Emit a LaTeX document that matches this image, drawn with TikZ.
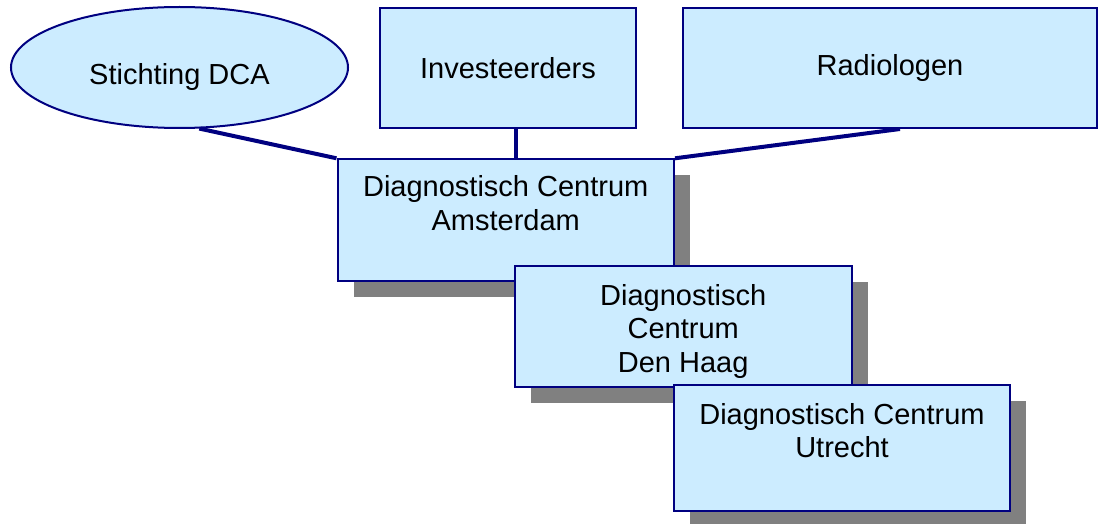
\documentclass[tikz,border=0pt]{standalone}
\usepackage{fontspec}
\setmainfont{Liberation Sans}
\usetikzlibrary{shapes.geometric,shadows}
\definecolor{boxfill}{HTML}{CCECFF}
\definecolor{boxline}{HTML}{000080}
\definecolor{shadowgray}{HTML}{808080}
\begin{document}
\begin{tikzpicture}[x=0.5pt,y=-0.5pt]
        \tikzstyle{unit}=[rectangle,draw=boxline,line width=1pt,fill=boxfill,inner sep=0pt]
        \tikzstyle{oval}=[ellipse,draw=boxline,line width=1pt,fill=boxfill,inner sep=0pt]
        \tikzstyle{shadowed}=[general shadow={fill=shadowgray,shadow xshift=8pt,shadow yshift=-8pt}]
        \tikzstyle{lbl}=[font=\fontsize{14.5}{16.75}\selectfont,align=center,inner sep=0pt]
        \tikzstyle{link}=[draw=boxline,line width=2pt]
        \useasboundingbox (0,0) rectangle (1098,524);
       \begin{scope}
         \node [oval,minimum width=168.5pt,minimum height=60.5pt] (dca) at (179.5,67.5) {};
         \node [lbl] (dca-t) at ([yshift=-4.75pt]dca.center) {Stichting DCA};
         \node [unit,lbl,minimum width=128pt,minimum height=60pt] (inv) at (508,68) {Investeerders};
         \node [unit,lbl,minimum width=207pt,minimum height=60pt] (radio) at (890,68) {Radiologen};
         \node [unit,shadowed,minimum width=168.25pt,minimum height=60.7pt] (ams) at (505.75,220) {};
         \node [lbl,anchor=north] (ams-t) at ([yshift=-8.5pt]ams.north) {Diagnostisch Centrum\\Amsterdam};
         \node [unit,shadowed,minimum width=168.5pt,minimum height=60.5pt] (haag) at (683.2,326.2) {};
         \node [lbl,anchor=north] (haag-t) at ([yshift=-9.5pt]haag.north) {Diagnostisch\\Centrum\\Den Haag};
         \node [unit,shadowed,minimum width=168pt,minimum height=63pt] (utr) at (842,448) {};
         \node [lbl,anchor=north] (utr-t) at ([yshift=-9.5pt]utr.north) {Diagnostisch Centrum\\Utrecht};
         \path[link] (dca.-72) edge (ams.north west);
         \path[link] ([xshift=4pt]inv.south) edge ([xshift=4pt]inv.south |- ams.north);
         \path[link] ([xshift=5pt]radio.south) edge (ams.north east);
        \end{scope}
      \end{tikzpicture}
\end{document}
